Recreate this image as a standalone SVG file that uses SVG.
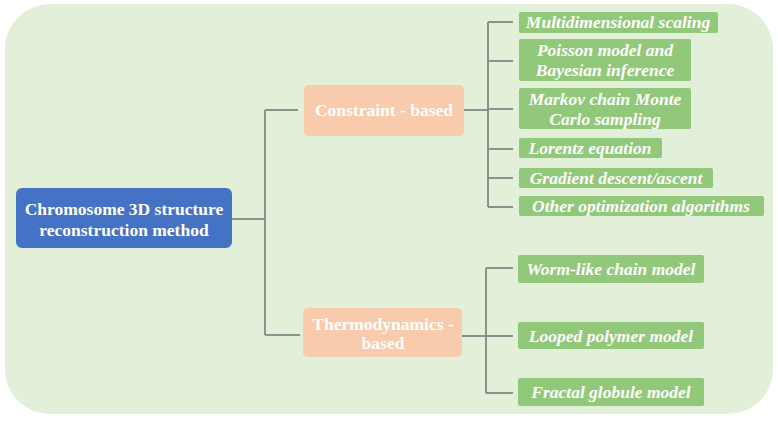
<svg xmlns="http://www.w3.org/2000/svg" width="778" height="421" viewBox="0 0 778 421">
<defs>
<style>
.bg{fill:#e2efd9}
.root{fill:#4472c4}
.mid{fill:#f8cbad}
.leaf{fill:#92c87a}
.t{font-family:"Liberation Serif","Times New Roman",serif;font-weight:bold;fill:#ffffff;text-anchor:middle}
.ti{font-family:"Liberation Serif","Times New Roman",serif;font-weight:bold;font-style:italic;fill:#ffffff;text-anchor:middle;font-size:17.5px}
.c{fill:none;stroke:#8f8f8f;stroke-width:2}
</style>
</defs>
<rect class="bg" x="5" y="4" width="768" height="410" rx="45" ry="45"/>
<g id="connectors">
<path class="c" d="M232,219 H265 M265,110 V335 M265,110 H298 M265,335 H300"/>
<path class="c" d="M464,110 H488 M488,22 V207 M488,22 H513 M488,61 H513 M488,109 H513 M488,149 H513 M488,178 H513 M488,207 H513"/>
<path class="c" d="M462,336 H486 M486,268 V393 M486,268 H513 M486,336 H513 M486,393 H513"/>
</g>
<g id="root">
<rect class="root" x="16" y="188" width="216" height="60" rx="6"/>
<text class="t" font-size="17.5" x="124" y="215">Chromosome 3D structure</text>
<text class="t" font-size="17.5" x="124" y="236">reconstruction method</text>
</g>
<g id="constraint">
<rect class="mid" x="304" y="85" width="160" height="51" rx="5"/>
<text class="t" font-size="17.5" x="384" y="116">Constraint - based</text>
</g>
<g id="thermo">
<rect class="mid" x="303" y="308" width="159" height="49" rx="5"/>
<text class="t" font-size="17.5" x="383" y="330">Thermodynamics -</text>
<text class="t" font-size="17.5" x="383" y="349">based</text>
</g>
<g id="leaf-mds">
<rect class="leaf" x="519" y="12" width="199" height="21" rx="2"/>
<text class="ti" x="618" y="28">Multidimensional scaling</text>
</g>
<g id="leaf-poisson">
<rect class="leaf" x="519" y="39" width="172" height="42" rx="2"/>
<text class="ti" x="605" y="56">Poisson model and</text>
<text class="ti" x="605" y="76">Bayesian inference</text>
</g>
<g id="leaf-mcmc">
<rect class="leaf" x="519" y="88" width="172" height="41" rx="2"/>
<text class="ti" x="605" y="105">Markov chain Monte</text>
<text class="ti" x="605" y="125">Carlo sampling</text>
</g>
<g id="leaf-lorentz">
<rect class="leaf" x="519" y="138" width="143" height="20" rx="2"/>
<text class="ti" x="590" y="154">Lorentz equation</text>
</g>
<g id="leaf-gradient">
<rect class="leaf" x="519" y="168" width="194" height="20" rx="2"/>
<text class="ti" x="616" y="184">Gradient descent/ascent</text>
</g>
<g id="leaf-other">
<rect class="leaf" x="519" y="196" width="245" height="20" rx="2"/>
<text class="ti" x="641" y="212">Other optimization algorithms</text>
</g>
<g id="leaf-worm">
<rect class="leaf" x="518" y="255" width="186" height="28" rx="2"/>
<text class="ti" x="611" y="275">Worm-like chain model</text>
</g>
<g id="leaf-looped">
<rect class="leaf" x="518" y="322" width="186" height="27" rx="2"/>
<text class="ti" x="611" y="342">Looped polymer model</text>
</g>
<g id="leaf-fractal">
<rect class="leaf" x="518" y="378" width="186" height="28" rx="2"/>
<text class="ti" x="611" y="398">Fractal globule model</text>
</g>
</svg>
